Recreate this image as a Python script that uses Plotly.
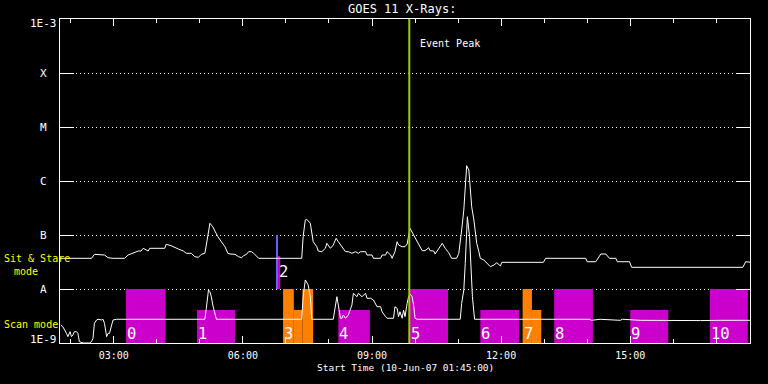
import math
import plotly.graph_objects as go

DAY = "2007-06-10 "

# GOES 11 long channel (1-8 A)
t_long = ["01:45","02:29","02:33","02:36","02:47","02:52","02:59","03:15","03:20","03:34","03:38","03:41","03:48","03:50",
          "04:11","04:13","04:20","04:30","04:37","04:41","04:48","04:53","04:58","05:02","05:07","05:09","05:14","05:18",
          "05:25","05:35","05:39","05:42","05:49","05:54","05:58","06:01","06:05","06:08","06:12","06:15","06:22","07:22",
          "07:24","07:27","07:29","07:34","07:36","07:38","07:43","07:45","07:50","07:55","07:57","08:02","08:06","08:10",
          "08:13","08:18","08:23","08:27","08:32","08:37","08:41","08:44","08:51","08:53","09:00","09:02","09:12","09:14",
          "09:19","09:21","09:26","09:28","09:32","09:35","09:37","09:42","09:46","09:49","09:51","09:53","09:58","10:03",
          "10:07","10:10","10:14","10:19","10:21","10:26","10:28","10:33","10:38","10:42","10:47","10:51","10:58","11:01",
          "11:03","11:05","11:08","11:10","11:12","11:15","11:17","11:19","11:22","11:24","11:26","11:29","11:31","11:36",
          "11:40","11:45","11:50","11:54","11:59","12:01","12:59","13:02","13:58","14:00","14:12","14:17","14:19","14:26",
          "14:31","14:40","14:42","14:59","15:02","17:37","17:41","17:48"]
v_long = [3.70e-8,3.70e-8,4.39e-8,4.39e-8,4.26e-8,3.80e-8,3.70e-8,3.70e-8,4.26e-8,5.05e-8,5.05e-8,5.67e-8,5.05e-8,5.67e-8,
          5.67e-8,6.72e-8,6.34e-8,5.50e-8,5.05e-8,4.58e-8,4.58e-8,3.96e-8,3.86e-8,4.39e-8,4.58e-8,6.53e-8,1.65e-7,1.42e-7,
          9.30e-8,6.07e-8,4.58e-8,4.45e-8,4.39e-8,3.96e-8,3.80e-8,4.14e-8,4.39e-8,4.91e-8,4.91e-8,4.58e-8,3.70e-8,3.70e-8,
          9.30e-8,1.90e-7,1.95e-7,1.65e-7,1.075e-7,7.51e-8,6.07e-8,5.05e-8,4.91e-8,5.67e-8,7.02e-8,5.67e-8,6.53e-8,8.69e-8,
          7.51e-8,6.07e-8,4.91e-8,4.91e-8,4.58e-8,4.91e-8,4.58e-8,4.91e-8,4.91e-8,4.26e-8,4.26e-8,3.70e-8,3.70e-8,4.26e-8,
          4.26e-8,4.91e-8,4.26e-8,3.70e-8,4.91e-8,7.51e-8,6.53e-8,6.07e-8,6.07e-8,6.81e-8,1.0e-7,1.33e-7,1.0e-7,7.51e-8,
          5.92e-8,5.12e-8,5.12e-8,5.82e-8,5.12e-8,5.05e-8,4.45e-8,5.67e-8,7.02e-8,5.67e-8,4.70e-8,3.70e-8,3.70e-8,4.58e-8,
          7.02e-8,1.24e-7,2.90e-7,9.07e-7,1.92e-6,1.60e-6,7.84e-7,3.34e-7,1.90e-7,1.075e-7,7.02e-8,4.91e-8,3.70e-8,3.44e-8,
          2.99e-8,2.59e-8,2.78e-8,3.07e-8,2.67e-8,3.12e-8,3.12e-8,3.70e-8,3.70e-8,3.20e-8,3.20e-8,3.96e-8,4.45e-8,4.45e-8,
          3.70e-8,3.70e-8,3.20e-8,3.20e-8,2.52e-8,2.52e-8,3.20e-8,3.12e-8]

# GOES 11 short channel (0.5-4 A)
t_short = ["01:46","01:49","01:54","01:56","01:59","02:01","02:03","02:05","02:08","02:10","02:12","02:17","02:26","02:29",
           "02:31","02:33","02:36","02:38","02:43","02:45","02:47","02:50","02:52","02:54","02:57","02:59","03:04","05:07",
           "05:09","05:12","05:14","05:16","05:18","05:21","05:23","07:22","07:24","07:27","07:29","07:31","07:34","07:36",
           "08:06","08:09","08:11","08:13","08:16","08:18","08:20","08:23","08:27","08:32","08:34","08:39","08:41","08:46",
           "08:51","08:53","08:58","09:02","09:07","09:12","09:14","09:19","09:21","09:30","09:32","09:35","09:37","09:39",
           "09:42","09:44","09:46","09:49","09:51","09:53","09:56","09:58","10:00","10:03","11:03","11:05","11:08","11:10",
           "11:12","11:13","11:16","11:18","11:20","11:23","14:03","14:06","14:18","14:46","14:49","15:14","15:42","16:38",
           "17:06","17:48"]
v_short = [2.15e-9,2.00e-9,1.51e-9,1.31e-9,1.62e-9,1.31e-9,1.41e-9,1.62e-9,1.62e-9,1.51e-9,1.06e-9,1.0e-9,1.0e-9,1.06e-9,
           1.22e-9,2.32e-9,2.67e-9,2.75e-9,2.67e-9,2.75e-9,2.32e-9,1.31e-9,1.51e-9,1.51e-9,2.15e-9,2.67e-9,2.75e-9,2.75e-9,
           4.39e-9,9.58e-9,8.91e-9,7.20e-9,5.05e-9,3.55e-9,2.75e-9,2.75e-9,7.20e-9,1.47e-8,1.28e-8,1.19e-8,7.20e-9,2.75e-9,
           2.75e-9,5.44e-9,7.20e-9,5.05e-9,2.87e-9,2.87e-9,3.30e-9,2.87e-9,3.30e-9,5.05e-9,8.32e-9,7.20e-9,8.32e-9,7.20e-9,
           8.32e-9,6.73e-9,6.73e-9,6.26e-9,4.70e-9,4.70e-9,3.80e-9,3.07e-9,2.87e-9,2.87e-9,4.70e-9,4.39e-9,3.07e-9,3.80e-9,
           2.87e-9,4.08e-9,3.07e-9,5.44e-9,7.20e-9,8.08e-9,7.20e-9,5.05e-9,2.87e-9,2.75e-9,2.75e-9,5.44e-9,9.58e-9,2.99e-8,
           1.075e-7,2.18e-7,9.30e-8,2.59e-8,7.20e-9,2.75e-9,2.75e-9,2.63e-9,2.75e-9,2.63e-9,2.75e-9,2.63e-9,2.60e-9,2.60e-9,
           2.63e-9,2.63e-9]

# Observation blocks (Scan / Sit & Stare)
bar_start = ["03:17","04:56","06:49","06:56","07:11","07:23","08:13","09:53","11:31","12:30","12:43","13:14","15:00","16:51"]
bar_end   = ["04:12","05:49","06:52","07:11","07:23","07:38","08:57","10:46","12:25","12:43","12:56","14:08","15:53","17:44"]
bar_base  = [1e-9, 1e-9, 1e-8, 1e-9, 1e-9, 1e-9, 1e-9, 1e-9, 1e-9, 1e-9, 1e-9, 1e-9, 1e-9, 1e-9]
bar_top   = [1e-8, 4.1e-9, 4.1e-8, 1e-8, 4.1e-9, 1e-8, 4.1e-9, 1e-8, 4.1e-9, 1e-8, 4.1e-9, 1e-8, 4.1e-9, 1e-8]
bar_kind  = ["m", "m", "m", "o", "o", "o", "m", "m", "m", "o", "o", "m", "m", "m"]

label_text = ["0", "1", "2", "3", "4", "5", "6", "7", "8", "9", "10"]
label_time = ["03:17","04:56","06:49","06:56","08:13","09:53","11:31","12:30","13:14","15:00","16:51"]
label_band = ["scan","scan","stare","scan","scan","scan","scan","scan","scan","scan","scan"]

pointer_time = "06:47:30"
pointer_range = [1e-8, 1e-7]
event_peak_time = "09:52"

ytick_vals = [1e-9, 1e-8, 1e-7, 1e-6, 1e-5, 1e-4, 1e-3]
ytick_text = ["1E-9", "A", "B", "C", "M", "X", "1E-3"]

x_range = [DAY + "01:45", DAY + "17:47"]

MAGENTA = "#cc00cc"
ORANGE = "#ff8000"
FONT = "DejaVu Sans Mono, Liberation Mono, monospace"

fig = go.Figure()

for s, e, b, t, k in zip(bar_start, bar_end, bar_base, bar_top, bar_kind):
    col = MAGENTA if k == "m" else ORANGE
    fig.add_trace(go.Scatter(
        x=[DAY + s, DAY + s, DAY + e, DAY + e, DAY + s],
        y=[b, t, t, b, b], mode="lines", fill="toself", fillcolor=col,
        line=dict(width=0, color=col), hoverinfo="skip", showlegend=False))

fig.add_trace(go.Scatter(x=[DAY + pointer_time, DAY + pointer_time], y=pointer_range, mode="lines",
                         line=dict(color="#6464ff", width=2), showlegend=False, hoverinfo="skip"))

fig.add_trace(go.Scatter(x=[DAY + t for t in t_long], y=v_long, mode="lines",
                         line=dict(color="white", width=1), showlegend=False, name="1-8 A"))
fig.add_trace(go.Scatter(x=[DAY + t for t in t_short], y=v_short, mode="lines",
                         line=dict(color="white", width=1), showlegend=False, name="0.5-4 A"))

fig.add_trace(go.Scatter(x=[DAY + event_peak_time, DAY + event_peak_time], y=[ytick_vals[0], ytick_vals[-1]],
                         mode="lines", line=dict(color="#9acd00", width=2), showlegend=False, hoverinfo="skip"))

ann = []
# y labels, centred left of axis
for v, txt in zip(ytick_vals, ytick_text):
    shift = 0
    if txt == "1E-3":
        shift = -4
    elif txt == "1E-9":
        shift = 4
    ann.append(dict(x=-0.0232, xref="paper", y=math.log10(v), yref="y", text=txt, showarrow=False,
                    xanchor="center", yanchor="middle", yshift=shift,
                    font=dict(family=FONT, size=11, color="white")))

# block labels
for txt, t, band in zip(label_text, label_time, label_band):
    yp = 0.0293 if band == "scan" else 0.219
    ann.append(dict(x=DAY + t, xref="x", y=yp, yref="paper", text=txt, showarrow=False,
                    xanchor="left", yanchor="middle", xshift=-1,
                    font=dict(family=FONT, size=15.5, color="white")))

ann.append(dict(x=DAY + event_peak_time, xref="x", y=1 - 24 / 324, yref="paper", text="Event Peak",
                showarrow=False, xanchor="left", yanchor="middle", xshift=9,
                font=dict(family=FONT, size=10, color="white")))
ann.append(dict(x=-58 / 690, xref="paper", y=(343 - 258) / 324, yref="paper", text="Sit & Stare",
                showarrow=False, xanchor="left", yanchor="middle",
                font=dict(family=FONT, size=10, color="#ffff00")))
ann.append(dict(x=-48 / 690, xref="paper", y=(343 - 271) / 324, yref="paper", text="mode",
                showarrow=False, xanchor="left", yanchor="middle",
                font=dict(family=FONT, size=10, color="#ffff00")))
ann.append(dict(x=-58 / 690, xref="paper", y=(343 - 324) / 324, yref="paper", text="Scan mode",
                showarrow=False, xanchor="left", yanchor="middle",
                font=dict(family=FONT, size=10, color="#ffff00")))
ann.append(dict(x=0.5, xref="paper", y=-25 / 324, yref="paper", text="Start Time (10-Jun-07 01:45:00)",
                showarrow=False, xanchor="center", yanchor="middle",
                font=dict(family=FONT, size=9.5, color="white")))
ann.append(dict(x=(402 - 60) / 690, xref="paper", y=1 + 9.5 / 324, yref="paper", text="GOES 11 X-Rays:",
                showarrow=False, xanchor="center", yanchor="middle",
                font=dict(family=FONT, size=12, color="white")))

fig.update_layout(
    width=768, height=384,
    margin=dict(l=60, r=18, t=19, b=41),
    paper_bgcolor="black", plot_bgcolor="black",
    showlegend=False,
    annotations=ann,
    xaxis=dict(type="date", range=x_range, showgrid=False, zeroline=False,
               showline=True, linecolor="white", linewidth=1, mirror="ticks",
               ticks="inside", ticklen=7, tickcolor="white", tickwidth=1,
               tick0=DAY + "00:00", dtick=3 * 3600000, tickformat="%H:%M",
               tickfont=dict(family=FONT, size=10, color="white"), ticklabelstandoff=3,
               minor=dict(dtick=3600000, ticks="inside", ticklen=4, tickcolor="white", showgrid=False)),
    yaxis=dict(type="log", range=[-9, -3], showgrid=True, gridcolor="white", gridwidth=1,
               griddash="1px,3px", zeroline=False,
               showline=True, linecolor="white", linewidth=1, mirror="ticks",
               ticks="inside", ticklen=14, tickcolor="white", tickwidth=1,
               tickvals=ytick_vals, showticklabels=False),
)

fig.write_html("out.html", config={"displayModeBar": False},
               post_script="document.body.style.margin='0px';")
